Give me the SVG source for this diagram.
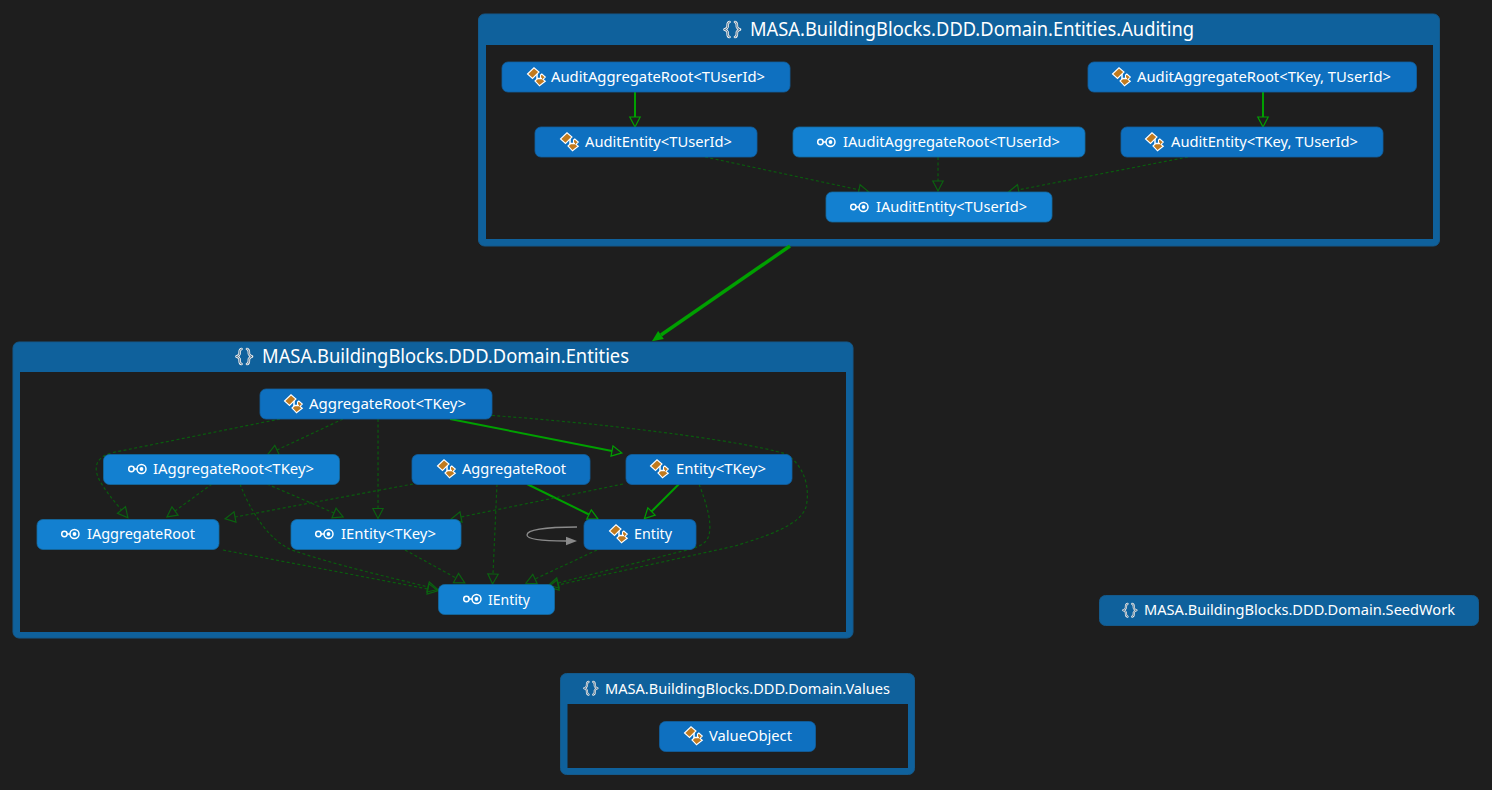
<svg xmlns="http://www.w3.org/2000/svg" xmlns:xlink="http://www.w3.org/1999/xlink" width="1492" height="790" viewBox="0 0 1492 790">
<style>
text{font-family:"Noto Sans","Open Sans","Liberation Sans",sans-serif;fill:#fff}
.nt{font-size:15.200px}
.gt{font-size:19.400px}
.st{font-size:15.200px}
.group{fill:#0f619c;stroke:#14598a;stroke-width:1}
.inner{fill:#1e1e1e}
.cls{fill:#0e70c0;stroke:#125f9e;stroke-width:.8}
.ifc{fill:#1380d0;stroke:#14699f;stroke-width:.8}
.solid{fill:none;stroke:#00a000;stroke-width:2;marker-end:url(#hollow)}
.dash{fill:none;stroke:#0a5c0e;stroke-width:1.2;stroke-dasharray:3 2.4;marker-end:url(#hollowDark)}
.heavy{fill:none;stroke:#00a000;stroke-width:3.4;marker-end:url(#filled)}
.self{fill:none;stroke:#8a8a8a;stroke-width:1.3;marker-end:url(#gray)}
</style>
<defs>
<marker id="hollow" markerUnits="userSpaceOnUse" markerWidth="14" markerHeight="14" viewBox="0 0 14 14" refX="1" refY="7" orient="auto"><path d="M1 1.800L11 7L1 12.200Z" fill="none" stroke="#00a000" stroke-width="1.2"/></marker>
<marker id="hollowDark" markerUnits="userSpaceOnUse" markerWidth="14" markerHeight="14" viewBox="0 0 14 14" refX="1" refY="7" orient="auto"><path d="M1 1.800L11 7L1 12.200Z" fill="none" stroke="#0b6210" stroke-width="1.200"/></marker>
<marker id="filled" markerUnits="userSpaceOnUse" markerWidth="14" markerHeight="14" viewBox="0 0 14 14" refX="1" refY="7" orient="auto"><path d="M1 2L12 7L1 12Z" fill="#00a000"/></marker>
<marker id="gray" markerUnits="userSpaceOnUse" markerWidth="14" markerHeight="14" viewBox="0 0 14 14" refX="1" refY="7" orient="auto"><path d="M1 2.800L12 7L1 11.200Z" fill="#8a8a8a"/></marker>
<g id="classIcon">
<path d="M0.500 7L7 0.800L12 5L5.500 11.500Z" fill="#c17a1e" stroke="#fff" stroke-width="1.100"/>
<path d="M8 14L10.500 11.500H13.500V8L14.800 7L18.300 10L16 12.500L18.300 14.200L12.500 18.800Z" fill="#c17a1e" stroke="#fff" stroke-width="1.100"/>
<path d="M10 7V11.500H15" fill="none" stroke="#fff" stroke-width="1.500"/>
</g>
<g id="ifaceIcon" fill="none" stroke="#fff">
<circle cx="3.400" cy="5" r="2.700" stroke-width="1.500"/>
<path d="M6 5H9" stroke-width="1.500"/>
<circle cx="13.500" cy="5" r="4.500" stroke-width="1.500"/>
<circle cx="13.500" cy="5" r="1.900" fill="#fff" stroke="none"/>
</g>
<path id="braceL" d="M6.500 1C3.800 1.500 5 4.500 4.500 6C4.200 7.500 3 8 1.500 8.500C3 9 4.200 9.500 4.500 11C5 12.500 3.800 15.500 6.500 16"/>
<g id="nsIcon" fill="none" stroke-linejoin="round" stroke-linecap="round">
<use href="#braceL" stroke="#f2f2f2" stroke-width="2.600"/>
<use href="#braceL" stroke="#3a5f7c" stroke-width=".9"/>
<g transform="translate(18.500,0) scale(-1,1)">
<use href="#braceL" stroke="#f2f2f2" stroke-width="2.600"/>
<use href="#braceL" stroke="#3a5f7c" stroke-width=".9"/>
</g>
</g>
</defs>

<rect width="1492" height="790" fill="#1e1e1e"/>

<!-- namespace containers -->
<g id="ns-auditing">
<rect class="group" x="478.500" y="14" width="961" height="232" rx="6"/>
<rect class="inner" x="486" y="45" width="947" height="194"/>
<use href="#nsIcon" x="723" y="21"/>
<text class="gt" x="750" y="36" textLength="444" lengthAdjust="spacingAndGlyphs">MASA.BuildingBlocks.DDD.Domain.Entities.Auditing</text>
</g>
<g id="ns-entities">
<rect class="group" x="13" y="342" width="840" height="296" rx="6"/>
<rect class="inner" x="20" y="372" width="826" height="260"/>
<use href="#nsIcon" x="235" y="348"/>
<text class="gt" x="262" y="363" textLength="367" lengthAdjust="spacingAndGlyphs">MASA.BuildingBlocks.DDD.Domain.Entities</text>
</g>
<g id="ns-values">
<rect class="group" x="560.500" y="673.500" width="354" height="101" rx="6"/>
<rect class="inner" x="567.500" y="704" width="340.500" height="64"/>
<use href="#nsIcon" transform="translate(583,681) scale(.85)"/>
<text class="st" x="605" y="694" textLength="285" lengthAdjust="spacingAndGlyphs">MASA.BuildingBlocks.DDD.Domain.Values</text>
</g>
<g id="ns-seedwork">
<rect class="group" x="1099.500" y="595.500" width="379" height="30" rx="6"/>
<use href="#nsIcon" transform="translate(1122,603) scale(.85)"/>
<text class="st" x="1144" y="615" textLength="311" lengthAdjust="spacingAndGlyphs">MASA.BuildingBlocks.DDD.Domain.SeedWork</text>
</g>

<!-- dependency and inheritance connectors -->
<g id="connectors">
<path class="solid" d="M635 92V117"/>
<path class="solid" d="M1263 92V117"/>
<path class="dash" d="M705 157L859 189.800"/>
<path class="dash" d="M938 157V181"/>
<path class="dash" d="M1188 157L1018.500 189.800"/>
<path class="heavy" d="M790 246L661 335"/>

<path class="dash" d="M280 419L113 452.500C91 458 94 473 103 486C108 494 114 501 121.500 510"/>
<path class="dash" d="M343 419L277 450"/>
<path class="dash" d="M378 419V508.500"/>
<path class="solid" d="M450 419L612 451"/>
<path class="dash" d="M492 415.500C600 423 740 440 786 454C806 467 810 490 806 507C800 525 770 535 735 546L558 585"/>
<path class="dash" d="M699 484C707 505 712 522 709 535C706 546 695 548 675 553L558 583"/>
<path class="dash" d="M597 550L535 579"/>
<path class="dash" d="M497 484L493 574"/>
<path class="solid" d="M527 484L589 514.500"/>
<path class="solid" d="M679 484L651.500 511.500"/>
<path class="dash" d="M623 484L461 517"/>
<path class="dash" d="M413 484L235 517"/>
<path class="dash" d="M212 484L175 511"/>
<path class="dash" d="M267 484L334 513"/>
<path class="dash" d="M240 484C250 510 268 540 292 550C335 565 385 576 428 587"/>
<path class="dash" d="M223 550L428 589"/>
<path class="dash" d="M405 550L456 578"/>
<path class="self" d="M577 527C545 527 527 530 527 535C527 540 545 541 566 541"/>
</g>

<!-- types in MASA.BuildingBlocks.DDD.Domain.Entities.Auditing -->
<g id="audit-aggregate-root"><rect class="cls" x="502" y="62" width="288" height="30" rx="6"/><use href="#classIcon" x="527" y="67"/><text class="nt" x="551" y="82" textLength="214" lengthAdjust="spacingAndGlyphs">AuditAggregateRoot&lt;TUserId&gt;</text></g>
<g id="audit-entity"><rect class="cls" x="535" y="127" width="222" height="30" rx="6"/><use href="#classIcon" x="560" y="132"/><text class="nt" x="585" y="147" textLength="147" lengthAdjust="spacingAndGlyphs">AuditEntity&lt;TUserId&gt;</text></g>
<g id="iaudit-aggregate-root"><rect class="ifc" x="793" y="127" width="292" height="30" rx="6"/><use href="#ifaceIcon" x="817" y="137"/><text class="nt" x="843" y="147" textLength="217" lengthAdjust="spacingAndGlyphs">IAuditAggregateRoot&lt;TUserId&gt;</text></g>
<g id="audit-aggregate-root-key"><rect class="cls" x="1088" y="62" width="328.500" height="30" rx="6"/><use href="#classIcon" x="1112" y="67"/><text class="nt" x="1137" y="82" textLength="254" lengthAdjust="spacingAndGlyphs">AuditAggregateRoot&lt;TKey, TUserId&gt;</text></g>
<g id="audit-entity-key"><rect class="cls" x="1121" y="127" width="262" height="30" rx="6"/><use href="#classIcon" x="1145" y="132"/><text class="nt" x="1171" y="147" textLength="187" lengthAdjust="spacingAndGlyphs">AuditEntity&lt;TKey, TUserId&gt;</text></g>
<g id="iaudit-entity"><rect class="ifc" x="826" y="192" width="226" height="30" rx="6"/><use href="#ifaceIcon" x="850" y="202"/><text class="nt" x="876" y="212" textLength="151" lengthAdjust="spacingAndGlyphs">IAuditEntity&lt;TUserId&gt;</text></g>

<!-- types in MASA.BuildingBlocks.DDD.Domain.Entities -->
<g id="aggregate-root-key"><rect class="cls" x="260" y="389" width="232" height="30" rx="6"/><use href="#classIcon" x="284" y="394"/><text class="nt" x="309" y="409" textLength="157" lengthAdjust="spacingAndGlyphs">AggregateRoot&lt;TKey&gt;</text></g>
<g id="iaggregate-root-key"><rect class="ifc" x="103.500" y="454.500" width="236" height="30" rx="6"/><use href="#ifaceIcon" x="128" y="464"/><text class="nt" x="153" y="474" textLength="161" lengthAdjust="spacingAndGlyphs">IAggregateRoot&lt;TKey&gt;</text></g>
<g id="aggregate-root"><rect class="cls" x="412" y="454.500" width="178" height="30" rx="6"/><use href="#classIcon" x="437" y="459"/><text class="nt" x="462" y="474" textLength="104" lengthAdjust="spacingAndGlyphs">AggregateRoot</text></g>
<g id="entity-key"><rect class="cls" x="626" y="454.500" width="166" height="30" rx="6"/><use href="#classIcon" x="650" y="459"/><text class="nt" x="676" y="474" textLength="90" lengthAdjust="spacingAndGlyphs">Entity&lt;TKey&gt;</text></g>
<g id="iaggregate-root"><rect class="ifc" x="37" y="519.500" width="182" height="30" rx="6"/><use href="#ifaceIcon" x="61" y="529"/><text class="nt" x="87" y="539" textLength="108" lengthAdjust="spacingAndGlyphs">IAggregateRoot</text></g>
<g id="ientity-key"><rect class="ifc" x="291" y="519.500" width="170" height="30" rx="6"/><use href="#ifaceIcon" x="315" y="529"/><text class="nt" x="341" y="539" textLength="95" lengthAdjust="spacingAndGlyphs">IEntity&lt;TKey&gt;</text></g>
<g id="entity"><rect class="cls" x="584" y="519.500" width="112" height="30" rx="6"/><use href="#classIcon" x="609" y="524"/><text class="nt" x="634" y="539" textLength="38" lengthAdjust="spacingAndGlyphs">Entity</text></g>
<g id="ientity"><rect class="ifc" x="438.500" y="584.500" width="116" height="30" rx="6"/><use href="#ifaceIcon" x="463" y="594"/><text class="nt" x="488" y="605" textLength="42" lengthAdjust="spacingAndGlyphs">IEntity</text></g>

<!-- types in MASA.BuildingBlocks.DDD.Domain.Values -->
<g id="value-object"><rect class="cls" x="659.500" y="721.500" width="156" height="30" rx="6"/><use href="#classIcon" x="684" y="726"/><text class="nt" x="709" y="741" textLength="83" lengthAdjust="spacingAndGlyphs">ValueObject</text></g>
</svg>
